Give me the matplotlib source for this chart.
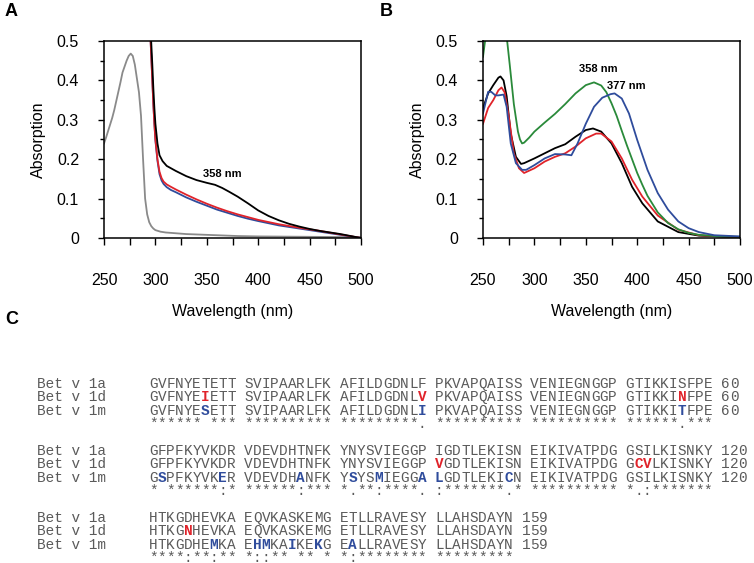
import matplotlib
matplotlib.use("Agg")
import matplotlib.pyplot as plt
from matplotlib.ticker import MultipleLocator, FuncFormatter

plt.rcParams['font.family'] = ['Liberation Sans', 'DejaVu Sans']

# ---- panel A spectra ----
a_gray_wl = [250, 252, 255, 258, 260, 263, 266, 268, 270, 272, 274, 276, 278, 280, 282, 284, 286,
             288, 290, 292, 294, 296, 298, 300, 305, 310, 320, 330, 340, 360, 380, 400, 450, 500]
a_gray = [0.24, 0.255, 0.28, 0.305, 0.325, 0.36, 0.395, 0.42, 0.435, 0.45, 0.462, 0.468, 0.462,
          0.44, 0.405, 0.37, 0.31, 0.2, 0.1, 0.06, 0.04, 0.03, 0.024, 0.02, 0.016, 0.014, 0.012,
          0.01, 0.009, 0.007, 0.005, 0.004, 0.003, 0.002]

a_black_wl = [295.5, 297, 298, 299, 300, 302, 304, 307, 311, 320, 330, 340, 350, 358, 365, 372,
              380, 390, 400, 410, 420, 430, 440, 450, 460, 470, 480, 490, 500]
a_black = [0.52, 0.44, 0.38, 0.33, 0.29, 0.24, 0.21, 0.195, 0.183, 0.17, 0.157, 0.147, 0.14,
           0.135, 0.127, 0.117, 0.105, 0.088, 0.07, 0.056, 0.045, 0.036, 0.029, 0.023, 0.018,
           0.014, 0.01, 0.005, 0.0]

a_red_wl = [295, 296, 297, 298, 299, 300, 302, 304, 306, 308, 311, 315, 320, 330, 340, 350, 360,
            370, 380, 390, 400, 420, 440, 460, 480, 500]
a_red = [0.52, 0.46, 0.4, 0.34, 0.29, 0.25, 0.2, 0.168, 0.152, 0.143, 0.136, 0.13, 0.123, 0.11,
         0.098, 0.087, 0.077, 0.068, 0.06, 0.053, 0.046, 0.035, 0.026, 0.018, 0.009, 0.0]

a_blue_wl = [295, 296, 297, 298, 299, 300, 302, 304, 306, 308, 311, 315, 320, 330, 340, 350, 360,
             370, 380, 390, 400, 420, 440, 460, 480, 500]
a_blue = [0.52, 0.46, 0.4, 0.34, 0.29, 0.248, 0.196, 0.162, 0.146, 0.137, 0.129, 0.122, 0.116,
          0.103, 0.092, 0.082, 0.072, 0.064, 0.056, 0.049, 0.043, 0.032, 0.024, 0.016, 0.008, 0.0]

# ---- panel B spectra ----
b_green_wl = [250, 251, 252, 254, 258, 263, 268, 271, 273.5, 276, 278, 280, 282, 284, 286, 288,
              290, 295, 300, 310, 320, 330, 340, 350, 358, 365, 370, 375, 380, 385, 390, 395,
              400, 405, 410, 420, 430, 440, 450, 460, 480, 500]
b_green = [0.46, 0.48, 0.5, 0.54, 0.58, 0.6, 0.58, 0.54, 0.5, 0.44, 0.39, 0.34, 0.305, 0.27, 0.25,
           0.24, 0.242, 0.255, 0.27, 0.293, 0.315, 0.34, 0.367, 0.388, 0.395, 0.387, 0.37,
           0.342, 0.31, 0.272, 0.235, 0.2, 0.165, 0.135, 0.107, 0.065, 0.038, 0.022, 0.013,
           0.008, 0.004, 0.003]

b_black_wl = [250, 255, 260, 265, 267, 270, 273, 277, 282, 287, 290, 300, 310, 320, 330, 340, 350,
              357, 365, 375, 385, 395, 405, 420, 440, 460, 500]
b_black = [0.33, 0.367, 0.388, 0.407, 0.41, 0.4, 0.36, 0.265, 0.206, 0.188, 0.19, 0.202, 0.215,
           0.228, 0.238, 0.257, 0.274, 0.278, 0.27, 0.24, 0.19, 0.13, 0.088, 0.042, 0.015,
           0.006, 0.002]

b_red_wl = [250, 255, 260, 265, 268, 271, 275, 280, 285, 290, 300, 310, 320, 330, 340, 350, 360,
            365, 375, 385, 395, 405, 420, 440, 460, 500]
b_red = [0.29, 0.33, 0.35, 0.375, 0.382, 0.37, 0.31, 0.215, 0.177, 0.165, 0.177, 0.194, 0.206,
         0.215, 0.232, 0.253, 0.265, 0.265, 0.245, 0.202, 0.148, 0.105, 0.057, 0.021, 0.007,
         0.002]

b_blue_wl = [250, 255, 258, 262, 265, 270, 273, 277, 282, 288, 292, 300, 310, 320, 330, 336, 342,
             350, 358, 366, 374, 378, 385, 392, 400, 410, 420, 430, 440, 450, 460, 475, 500]
b_blue = [0.316, 0.371, 0.371, 0.362, 0.362, 0.364, 0.333, 0.24, 0.19, 0.173, 0.173, 0.185, 0.202,
          0.213, 0.212, 0.21, 0.24, 0.29, 0.333, 0.356, 0.365, 0.367, 0.354, 0.316, 0.249,
          0.173, 0.114, 0.072, 0.042, 0.025, 0.015, 0.007, 0.004]

# ---- panel C alignment ----
seq_names = ["Bet v 1a", "Bet v 1d", "Bet v 1m"]
seq_blocks = [
    ["GVFNYETETT SVIPAARLFK AFILDGDNLF PKVAPQAISS VENIEGNGGP GTIKKISFPE 60",
     "GVFNYEIETT SVIPAARLFK AFILDGDNLV PKVAPQAISS VENIEGNGGP GTIKKINFPE 60",
     "GVFNYESETT SVIPAARLFK AFILDGDNLI PKVAPQAISS VENIEGNGGP GTIKKITFPE 60",
     "****** *** ********** *********. ********** ********** ******.***"],
    ["GFPFKYVKDR VDEVDHTNFK YNYSVIEGGP IGDTLEKISN EIKIVATPDG GSILKISNKY 120",
     "GFPFKYVKDR VDEVDHTNFK YNYSVIEGGP VGDTLEKISN EIKIVATPDG GCVLKISNKY 120",
     "GSPFKYVKER VDEVDHANFK YSYSMIEGGA LGDTLEKICN EIKIVATPDG GSILKISNKY 120",
     "* ******:* ******:*** *.**:****. :*******.* ********** *.:*******"],
    ["HTKGDHEVKA EQVKASKEMG ETLLRAVESY LLAHSDAYN 159",
     "HTKGNHEVKA EQVKASKEMG ETLLRAVESY LLAHSDAYN 159",
     "HTKGDHEMKA EHMKAIKEKG EALLRAVESY LLAHSDAYN 159",
     "****:**:** *::** ** * *:******** *********"],
]
# residue numbers (1-based) that differ, per block: {row: residues}
red_marks = [{1: [7, 30, 57]}, {1: [31, 52, 53]}, {1: [5]}]
blue_marks = [{2: [7, 30, 57]}, {2: [2, 9, 17, 22, 25, 30, 31, 39]}, {2: [8, 12, 13, 16, 19, 22]}]

W, H = 754, 563
fig = plt.figure(figsize=(W / 100, H / 100), dpi=100)

def fmt(v, pos):
    return "0" if abs(v) < 1e-9 else "%.1f" % v

def style_ax(ax):
    ax.set_xlim(250, 500)
    ax.set_ylim(0, 0.5)
    ax.xaxis.set_major_locator(MultipleLocator(50))
    ax.xaxis.set_minor_locator(MultipleLocator(25))
    ax.yaxis.set_major_locator(MultipleLocator(0.1))
    ax.yaxis.set_minor_locator(MultipleLocator(0.05))
    ax.yaxis.set_major_formatter(FuncFormatter(fmt))
    ax.tick_params(axis='x', which='both', direction='out', length=5, width=1, pad=20,
                   labelsize=11.5)
    ax.tick_params(axis='y', which='major', direction='out', length=4, width=1, pad=14,
                   labelsize=11.5)
    ax.tick_params(axis='y', which='minor', direction='out', length=3, width=1)
    for s in ax.spines.values():
        s.set_linewidth(1.1)
    ax.set_xlabel("Wavelength (nm)", fontsize=11.5)
    ax.set_ylabel("Absorption", fontsize=11.5)
    ax.xaxis.set_label_coords(0.5, -0.335)
    ax.yaxis.set_label_coords(-0.225, 0.5)

lw = 1.3
axA = fig.add_axes([104 / W, 1 - 238 / H, 257 / W, 197 / H])
axA.plot(a_gray_wl, a_gray, color="#8a8a8a", lw=lw)
axA.plot(a_blue_wl, a_blue, color="#2f4c9c", lw=lw)
axA.plot(a_red_wl, a_red, color="#e0232a", lw=lw)
axA.plot(a_black_wl, a_black, color="black", lw=lw)
axA.text(365, 0.163, "358 nm", fontsize=8, fontweight='bold', ha='center', va='center')
style_ax(axA)

axB = fig.add_axes([483 / W, 1 - 238 / H, 257 / W, 197 / H])
axB.plot(b_black_wl, b_black, color="black", lw=lw)
axB.plot(b_red_wl, b_red, color="#e0232a", lw=lw)
axB.plot(b_green_wl, b_green, color="#2a8a3a", lw=lw)
axB.plot(b_blue_wl, b_blue, color="#2f4c9c", lw=lw)
axB.text(362, 0.428, "358 nm", fontsize=8, fontweight='bold', ha='center', va='center')
axB.text(389, 0.386, "377 nm", fontsize=8, fontweight='bold', ha='center', va='center')
style_ax(axB)

fig.text(5 / W, 1 - 12 / H, "A", fontsize=13, fontweight='bold', va='center')
fig.text(380 / W, 1 - 12 / H, "B", fontsize=13, fontweight='bold', va='center')
fig.text(5 / W, 1 - 320 / H, "C", fontsize=13, fontweight='bold', va='center')

# alignment text, one character per text so coloured residues line up
mono = "Liberation Mono"
fs = 10.4
cw = fs * 100 / 72 * 0.6
name_x, seq_x = 37, 149
y0, dy = 384, 13.4
gray = "#5a5a5a"
for b, block in enumerate(seq_blocks):
    for r, line in enumerate(block):
        y = y0 + (b * 5 + r) * dy
        if r < 3:
            fig.text(name_x / W, 1 - y / H, seq_names[r], family=mono, fontsize=fs,
                     color=gray, va='center')
        special = {}
        for res in red_marks[b].get(r, []):
            special[(res - 1) + (res - 1) // 10] = "#e0232a"
        for res in blue_marks[b].get(r, []):
            special[(res - 1) + (res - 1) // 10] = "#2f4c9c"
        for i, ch in enumerate(line):
            if ch == " ":
                continue
            if i in special:
                fig.text((seq_x + i * cw) / W, 1 - y / H, ch, family=mono, fontsize=fs,
                         color=special[i], fontweight='bold', va='center')
            else:
                fig.text((seq_x + i * cw) / W, 1 - y / H, ch, family=mono, fontsize=fs,
                         color=gray, va='center')

fig.savefig("out.png", dpi=100)
